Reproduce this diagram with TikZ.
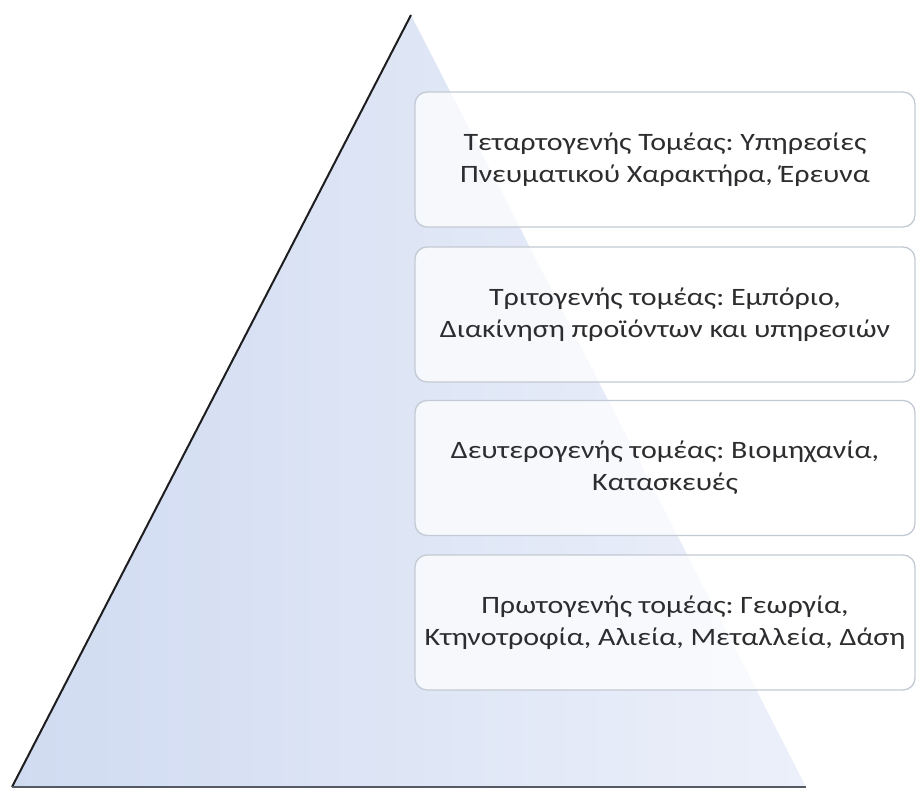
\documentclass[tikz,border=0pt]{standalone}
\usepackage{fontspec}
\setmainfont{Carlito}[FakeStretch=1.2]
\frenchspacing
\definecolor{triL}{RGB}{208,219,241}
\definecolor{triR}{RGB}{236,240,250}
\definecolor{edgeL}{RGB}{30,30,32}
\definecolor{edgeB}{RGB}{85,90,100}
\definecolor{boxline}{RGB}{196,202,212}
\definecolor{txt}{RGB}{45,45,48}
\begin{document}
\begin{tikzpicture}[x=1pt,y=-1pt,
  tier/.style={draw=boxline, line width=1.3pt, fill=white, fill opacity=0.72,
    text opacity=1, rounded corners=12pt, minimum width=500pt, minimum height=135pt,
    align=center, inner sep=0pt, text=txt, font=\fontsize{25}{32}\selectfont}]
\useasboundingbox (0,0) rectangle (918,789);
\fill[white] (0,0) rectangle (918,789);
\coordinate (A) at (411,15);
\coordinate (BL) at (12,787);
\coordinate (BR) at (806,787);
\shade[left color=triL, right color=triR] (A) -- (BL) -- (BR) -- cycle;
\draw[line width=2pt, edgeL] (A) -- (BL);
\draw[line width=2.5pt, edgeB] (BL) -- (BR);
\node[tier] (q) at (665,159.5) {Τεταρτογενής Τομέας: Υπηρεσίες\\Πνευματικού Χαρακτήρα, Έρευνα};
\node[tier] (t) at (665,314.5) {Τριτογενής τομέας: Εμπόριο,\\Διακίνηση προϊόντων και υπηρεσιών};
\node[tier] (s) at (665,468) {Δευτερογενής τομέας: Βιομηχανία,\\Κατασκευές};
\node[tier] (p) at (665,622.5) {Πρωτογενής τομέας: Γεωργία,\\Κτηνοτροφία, Αλιεία, Μεταλλεία, Δάση};
\end{tikzpicture}
\end{document}
